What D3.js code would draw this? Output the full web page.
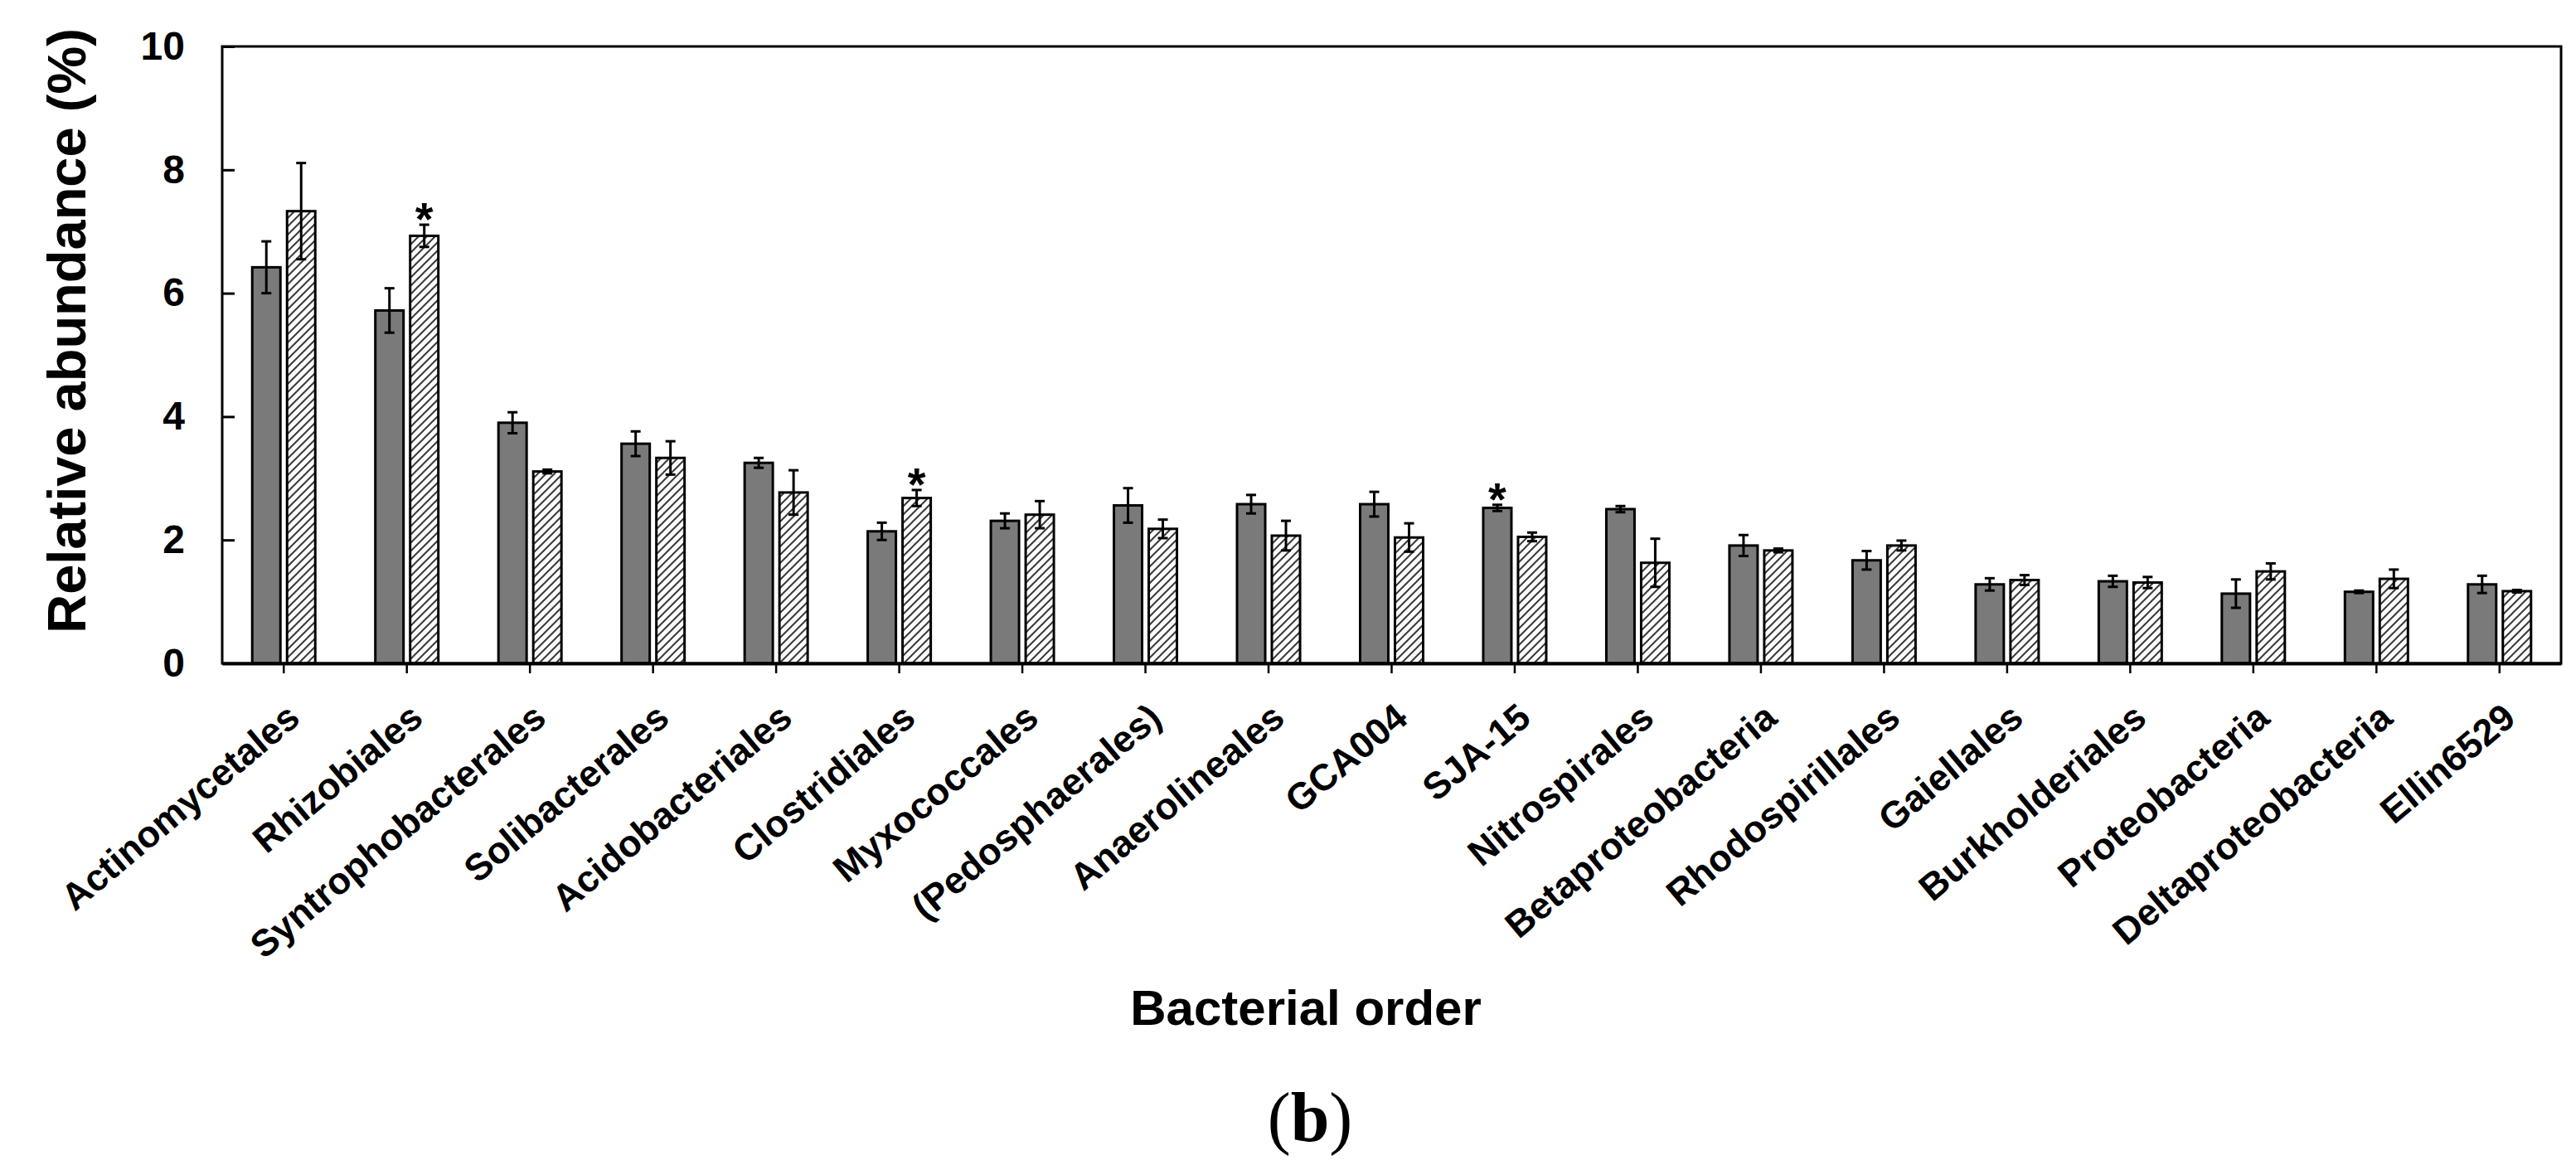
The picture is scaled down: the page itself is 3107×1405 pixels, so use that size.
<!DOCTYPE html>
<meta charset="utf-8">
<style>
  body { margin: 0; background: white; }
  svg text { font-family: "Liberation Sans", Arial, sans-serif; }
</style>
<div id="chart"></div>
<script src="https://d3js.org/d3.v7.min.js"></script>
<script>

// bacterial orders along the x axis
const orders = ["Actinomycetales", "Rhizobiales", "Syntrophobacterales", "Solibacterales",
  "Acidobacteriales", "Clostridiales", "Myxococcales", "(Pedosphaerales)", "Anaerolineales",
  "GCA004", "SJA-15", "Nitrospirales", "Betaproteobacteria", "Rhodospirillales",
  "Gaiellales", "Burkholderiales", "Proteobacteria", "Deltaproteobacteria", "Ellin6529"];

// solid grey bars
const solidMean = [6.42, 5.72, 3.90, 3.56, 3.25, 2.14, 2.31, 2.56, 2.58, 2.58,
  2.52, 2.50, 1.91, 1.67, 1.28, 1.33, 1.13, 1.16, 1.28];
const solidErr = [0.42, 0.36, 0.17, 0.20, 0.08, 0.14, 0.12, 0.28, 0.15, 0.20,
  0.05, 0.05, 0.17, 0.15, 0.10, 0.09, 0.23, 0.02, 0.14];

// hatched bars
const hatchMean = [7.33, 6.93, 3.11, 3.33, 2.77, 2.68, 2.41, 2.18, 2.07, 2.04,
  2.05, 1.63, 1.83, 1.91, 1.35, 1.31, 1.49, 1.37, 1.17];
const hatchErr = [0.78, 0.18, 0.03, 0.27, 0.36, 0.13, 0.22, 0.15, 0.24, 0.23,
  0.07, 0.39, 0.03, 0.08, 0.08, 0.09, 0.13, 0.15, 0.02];

// significant differences: [order, series]
const stars = [["Rhizobiales", "hatch"], ["Clostridiales", "hatch"], ["SJA-15", "solid"]];

const yTicks = [0, 2, 4, 6, 8, 10];

const W = 3107, H = 1405;
const plot = {left: 268, right: 3089, top: 56, bottom: 800};

const svg = d3.select("#chart").append("svg")
  .attr("width", W).attr("height", H);

const defs = svg.append("defs");
const pat = defs.append("pattern")
  .attr("id", "hatch")
  .attr("patternUnits", "userSpaceOnUse")
  .attr("width", 10).attr("height", 10);
pat.append("rect").attr("width", 10).attr("height", 10).attr("fill", "white");
pat.append("path")
  .attr("d", "M-2,2 L2,-2 M0,10 L10,0 M8,12 L12,8")
  .attr("stroke", "#3a3a3a").attr("stroke-width", 2);

const x = d3.scaleBand()
  .domain(orders)
  .range([plot.left, plot.right])
  .padding(0);

const bw = x.bandwidth();
const xs = d3.scaleBand()
  .domain(["solid", "hatch"])
  .range([bw / 2 - 38, bw / 2 + 38])
  .paddingInner(0.1905)
  .paddingOuter(0);

const y = d3.scaleLinear()
  .domain([0, 10])
  .range([plot.bottom, plot.top]);

// build a table from the arrays
const rows = [];
orders.forEach((o, i) => {
  rows.push({order: o, s: "solid", m: solidMean[i], e: solidErr[i]});
  rows.push({order: o, s: "hatch", m: hatchMean[i], e: hatchErr[i]});
});

const cx = d => x(d.order) + xs(d.s) + xs.bandwidth() / 2;

// bars
svg.append("g").selectAll("rect")
  .data(rows)
  .join("rect")
    .attr("x", d => x(d.order) + xs(d.s))
    .attr("y", d => y(d.m))
    .attr("width", xs.bandwidth())
    .attr("height", d => y(0) - y(d.m))
    .attr("fill", d => d.s == "solid" ? "#7a7a7a" : "url(#hatch)")
    .attr("stroke", "black")
    .attr("stroke-width", 3);

// error bars
const eb = svg.append("g")
  .attr("stroke", "black")
  .attr("stroke-width", 3);
eb.selectAll(".stem")
  .data(rows)
  .join("line")
    .attr("x1", cx).attr("x2", cx)
    .attr("y1", d => y(d.m - d.e))
    .attr("y2", d => y(d.m + d.e));
eb.selectAll(".capHi")
  .data(rows)
  .join("line")
    .attr("x1", d => cx(d) - 6).attr("x2", d => cx(d) + 6)
    .attr("y1", d => y(d.m + d.e)).attr("y2", d => y(d.m + d.e));
eb.selectAll(".capLo")
  .data(rows)
  .join("line")
    .attr("x1", d => cx(d) - 6).attr("x2", d => cx(d) + 6)
    .attr("y1", d => y(d.m - d.e)).attr("y2", d => y(d.m - d.e));

// stars
svg.append("g").selectAll("text")
  .data(stars.map(([o, s]) => rows.find(r => r.order == o && r.s == s)))
  .join("text")
    .attr("x", cx)
    .attr("y", d => y(d.m + d.e) + 12)
    .attr("text-anchor", "middle")
    .attr("font-size", 56)
    .attr("font-weight", "bold")
    .text("*");

// frame
svg.append("rect")
  .attr("x", plot.left).attr("y", plot.top)
  .attr("width", plot.right - plot.left)
  .attr("height", plot.bottom - plot.top)
  .attr("fill", "none")
  .attr("stroke", "black")
  .attr("stroke-width", 3);

// y axis
const yAxis = svg.append("g")
  .attr("transform", `translate(${plot.left},0)`)
  .call(d3.axisLeft(y).tickValues(yTicks).tickSize(-15).tickPadding(45));
yAxis.select(".domain").remove();
yAxis.selectAll("line").attr("stroke-width", 3);
yAxis.selectAll("text")
  .attr("font-size", 48)
  .attr("font-weight", "bold")
  .attr("font-family", "Liberation Sans, Arial, sans-serif")
  .attr("fill", "black");

// x axis
const xAxis = svg.append("g")
  .attr("transform", `translate(0,${plot.bottom})`)
  .call(d3.axisBottom(x).tickSize(12).tickSizeOuter(0));
xAxis.select(".domain").attr("stroke-width", 4);
xAxis.selectAll("line").attr("stroke-width", 2.5);
xAxis.selectAll("text")
  .attr("x", 0).attr("y", 0).attr("dy", 0)
  .attr("transform", "translate(22,70) rotate(-40)")
  .attr("text-anchor", "end")
  .attr("font-size", 45)
  .attr("font-weight", "bold")
  .attr("font-family", "Liberation Sans, Arial, sans-serif")
  .attr("fill", "black");

// axis titles
svg.append("text")
  .attr("transform", "translate(103,399) rotate(-90)")
  .attr("text-anchor", "middle")
  .attr("font-size", 65)
  .attr("font-weight", "bold")
  .text("Relative abundance (%)");

svg.append("text")
  .attr("x", 1575).attr("y", 1236)
  .attr("text-anchor", "middle")
  .attr("font-size", 60)
  .attr("font-weight", "bold")
  .text("Bacterial order");

// panel letter
const lab = svg.append("text")
  .attr("x", 1580).attr("y", 1376)
  .attr("text-anchor", "middle")
  .attr("font-size", 84)
  .style("font-family", "Liberation Serif, Times New Roman, serif");
lab.append("tspan").text("(");
lab.append("tspan").attr("font-weight", "bold").text("b");
lab.append("tspan").text(")");

</script>
